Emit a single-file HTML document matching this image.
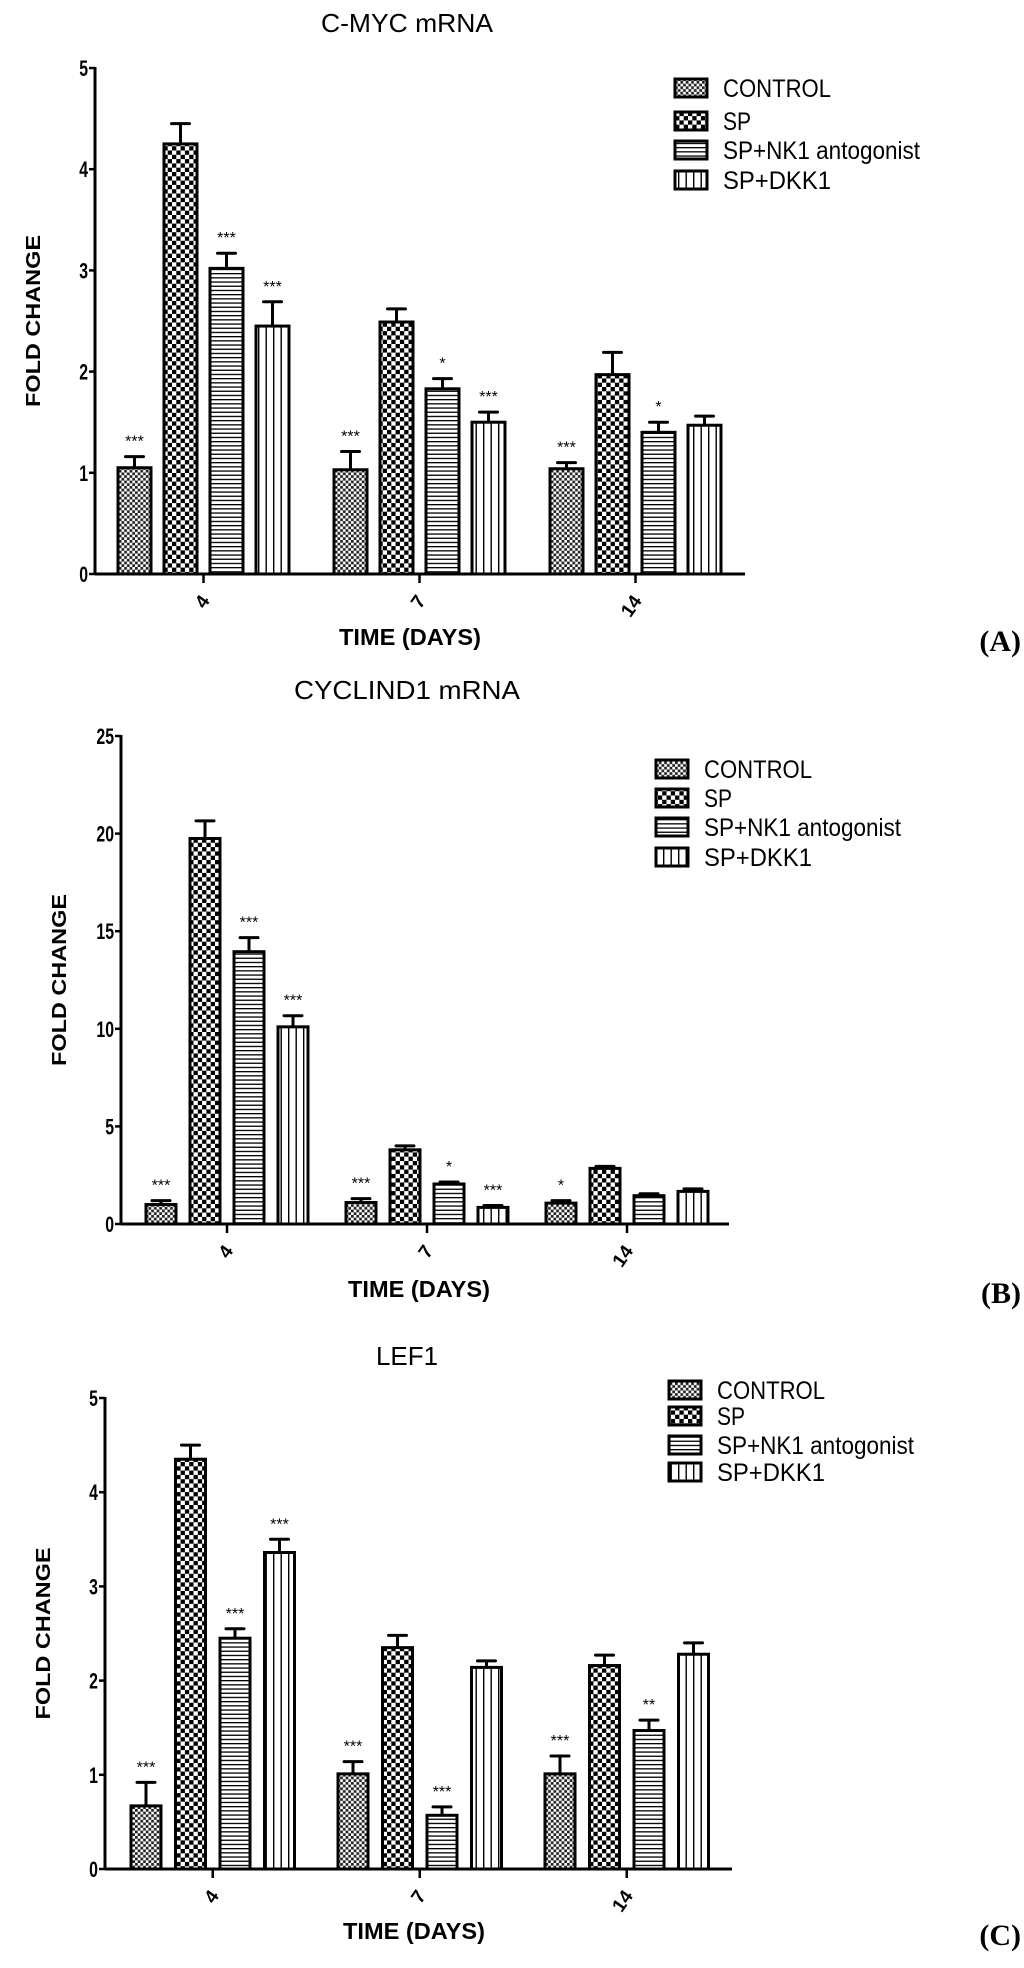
<!DOCTYPE html>
<html><head><meta charset="utf-8">
<style>
html,body{margin:0;padding:0;background:#fff;}
svg{display:block;}
text{font-family:"Liberation Sans",Arial,sans-serif;fill:#000;}
</style></head>
<body>
<svg id="fig" width="1024" height="1968" viewBox="0 0 1024 1968" xmlns="http://www.w3.org/2000/svg">
<defs>
<pattern id="pCtrl" width="5.4" height="5.4" patternUnits="userSpaceOnUse">
<rect width="5.4" height="5.4" fill="#fff"/><rect width="2.7" height="2.7" fill="#222"/><rect x="2.7" y="2.7" width="2.7" height="2.7" fill="#222"/></pattern>
<pattern id="pSP" width="8.6" height="8.6" patternUnits="userSpaceOnUse">
<rect width="8.6" height="8.6" fill="#fff"/><rect width="4.3" height="4.3" fill="#000"/><rect x="4.3" y="4.3" width="4.3" height="4.3" fill="#000"/></pattern>
<pattern id="pNK" width="10" height="4.2" patternUnits="userSpaceOnUse">
<rect width="10" height="4.2" fill="#fff"/><rect y="0" width="10" height="1.3" fill="#000"/></pattern>
<pattern id="pDKK" width="7.5" height="10" patternUnits="userSpaceOnUse">
<rect width="7.5" height="10" fill="#fff"/><rect x="3" width="1.4" height="10" fill="#000"/></pattern>
</defs>
</svg>
<script>
// ---- data ----
const seriesNames = ["CONTROL","SP","SP+NK1 antogonist","SP+DKK1"];
const categories = ["4","7","14"];
// Chart A: C-MYC mRNA
const aControl = [1.05,1.03,1.04];
const aSP = [4.25,2.49,1.97];
const aNK1 = [3.02,1.83,1.40];
const aDKK1 = [2.45,1.50,1.47];
const aErr = [[0.11,0.18,0.06],[0.20,0.13,0.22],[0.15,0.10,0.10],[0.24,0.10,0.09]];
const aStars = [["***","***","***"],["","",""],["***","*","*"],["***","***",""]];
const aTicks = [0,1,2,3,4,5];
// Chart B: CYCLIND1 mRNA
const bControl = [1.0,1.1,1.07];
const bSP = [19.75,3.8,2.85];
const bNK1 = [13.95,2.05,1.45];
const bDKK1 = [10.1,0.85,1.67];
const bErr = [[0.2,0.2,0.13],[0.9,0.2,0.1],[0.72,0.1,0.1],[0.57,0.1,0.13]];
const bStars = [["***","***","*"],["","",""],["***","*",""],["***","***",""]];
const bTicks = [0,5,10,15,20,25];
// Chart C: LEF1
const cControl = [0.67,1.01,1.01];
const cSP = [4.35,2.35,2.16];
const cNK1 = [2.45,0.57,1.47];
const cDKK1 = [3.36,2.14,2.28];
const cErr = [[0.25,0.13,0.19],[0.15,0.13,0.11],[0.10,0.09,0.11],[0.14,0.07,0.12]];
const cStars = [["***","***","***"],["","",""],["***","***","**"],["***","",""]];
const cTicks = [0,1,2,3,4,5];

const fills = ["url(#pCtrl)","url(#pSP)","url(#pNK)","url(#pDKK)"];
const NS = "http://www.w3.org/2000/svg";
const svg = document.getElementById("fig");
function mk(tag, attrs, parent){
  const e = document.createElementNS(NS, tag);
  for (const k in attrs) e.setAttribute(k, attrs[k]);
  (parent||svg).appendChild(e);
  return e;
}
function drawChart(cfg){
  const g = mk("g", {});
  
  
  const ymax = cfg.ticks[cfg.ticks.length-1];
  const yScale = v => cfg.y0 - (v / ymax) * (cfg.y0 - cfg.yTop);
  const xScale = (ci, si) => cfg.first + ci * cfg.gstride + si * cfg.bstride;
  const t = mk("text", {x:407, y:cfg.titleY, "font-size":26, "text-anchor":"middle", textLength:cfg.titleW, lengthAdjust:"spacingAndGlyphs"}, g);
  t.textContent = cfg.title;
  
  
  cfg.series.forEach((vals, si) => {
    vals.forEach((v, ci) => {
      const x = xScale(ci, si), y = yScale(v), w = cfg.bw;
      const e = cfg.err[si][ci];
      const ye = yScale(v + e);
      const cx = x + w/2;
      const stem = mk("line", {x1:cx, x2:cx, y1:y, y2:ye, stroke:"#000", "stroke-width":3}, g);
      
      
      const cap = mk("line", {x1:cx-9, x2:cx+9, y1:ye, y2:ye, stroke:"#000", "stroke-width":3, "stroke-linecap":"round"}, g);
      
      
      const r = mk("rect", {x:x, y:y, width:w, height:cfg.y0 - y, fill:fills[si], stroke:"#000", "stroke-width":3}, g);
      
      
      const s = cfg.stars[si][ci];
      if (s) {
        const st = mk("text", {x:cx, y:ye - 10, "font-size":16, "text-anchor":"middle"}, g);
        st.textContent = s;
        
        
      }
    });
  });
  const ya = mk("line", {x1:cfg.axisX, x2:cfg.axisX, y1:cfg.yTop-1, y2:cfg.y0, stroke:"#000", "stroke-width":3}, g);
  
  
  const xa = mk("line", {x1:cfg.axisX, x2:cfg.xEnd, y1:cfg.y0, y2:cfg.y0, stroke:"#000", "stroke-width":3}, g);
  
  
  cfg.ticks.forEach(tv => {
    const y = yScale(tv);
    mk("line", {x1:cfg.axisX-6, x2:cfg.axisX, y1:y, y2:y, stroke:"#000", "stroke-width":2.5}, g);
    const tl = mk("text", {x:cfg.axisX-7, y:y+8, "font-size":22, "font-weight":"bold", "text-anchor":"end", transform:"translate(" + (cfg.axisX-7) + ",0) scale(0.72,1) translate(" + (-(cfg.axisX-7)) + ",0)"}, g);
    tl.textContent = tv;
    
    
  });
  categories.forEach((c, ci) => {
    const tx = xScale(ci, 0) + (cfg.bstride*3 + cfg.bw)/2;
    mk("line", {x1:tx, x2:tx, y1:cfg.y0, y2:cfg.y0+9, stroke:"#000", "stroke-width":2.5}, g);
    const tl = mk("text", {x:0, y:0, "font-size":19, "font-weight":"bold", "text-anchor":"end", transform:"translate(" + (tx+7) + "," + (cfg.y0+27) + ") rotate(-55)"}, g);
    tl.textContent = c;
    
    
  });
  const xt = mk("text", {x:cfg.xTitleX, y:cfg.xTitleY, "font-size":23, "font-weight":"bold", "text-anchor":"middle", textLength:142, lengthAdjust:"spacingAndGlyphs"}, g);
  xt.textContent = "TIME (DAYS)";
  
  
  const yt = mk("text", {x:0, y:0, "font-size":20, "font-weight":"bold", "text-anchor":"middle", textLength:172, lengthAdjust:"spacingAndGlyphs", transform:"translate(" + (cfg.axisX-55) + "," + ((cfg.y0+cfg.yTop)/2) + ") rotate(-90)"}, g);
  yt.textContent = "FOLD CHANGE";
  
  
  const pl = mk("text", {x:1021, y:cfg.xTitleY+6, "font-size":30, "font-weight":"bold", "text-anchor":"end", style:"font-family:'Liberation Serif',serif"}, g);
  pl.textContent = cfg.panel;
  
  
  seriesNames.forEach((n, si) => {
    const ly = cfg.legRows[si];
    const lr = mk("rect", {x:cfg.legX, y:ly-9, width:32, height:18, fill:fills[si], stroke:"#000", "stroke-width":3}, g);
    
    
    const lt = mk("text", {x:cfg.legX+48, y:ly+9, "font-size":25, textLength:[108,28,197,108][si], lengthAdjust:"spacingAndGlyphs"}, g);
    lt.textContent = n;
    
    
  });
}
drawChart({id:"cmyc", title:"C-MYC mRNA", titleY:32, titleW:172, panel:"(A)",
  series:[aControl,aSP,aNK1,aDKK1], err:aErr, stars:aStars, ticks:aTicks,
  axisX:95, y0:574, yTop:68, xEnd:745, first:118, gstride:216, bstride:46, bw:33,
  xTitleX:410, xTitleY:645, legX:675, legRows:[88,121,150,180]});
drawChart({id:"cyclind1", title:"CYCLIND1 mRNA", titleY:699, titleW:226, panel:"(B)",
  series:[bControl,bSP,bNK1,bDKK1], err:bErr, stars:bStars, ticks:bTicks,
  axisX:121, y0:1224, yTop:736, xEnd:729, first:146, gstride:200, bstride:44, bw:30,
  xTitleX:419, xTitleY:1297, legX:656, legRows:[769,798,827,857]});
drawChart({id:"lef1", title:"LEF1", titleY:1365, titleW:62, panel:"(C)",
  series:[cControl,cSP,cNK1,cDKK1], err:cErr, stars:cStars, ticks:cTicks,
  axisX:105, y0:1869, yTop:1398, xEnd:732, first:131, gstride:207, bstride:44.5, bw:30,
  xTitleX:414, xTitleY:1939, legX:669, legRows:[1390,1416,1445,1472]});
</script>
</body></html>
